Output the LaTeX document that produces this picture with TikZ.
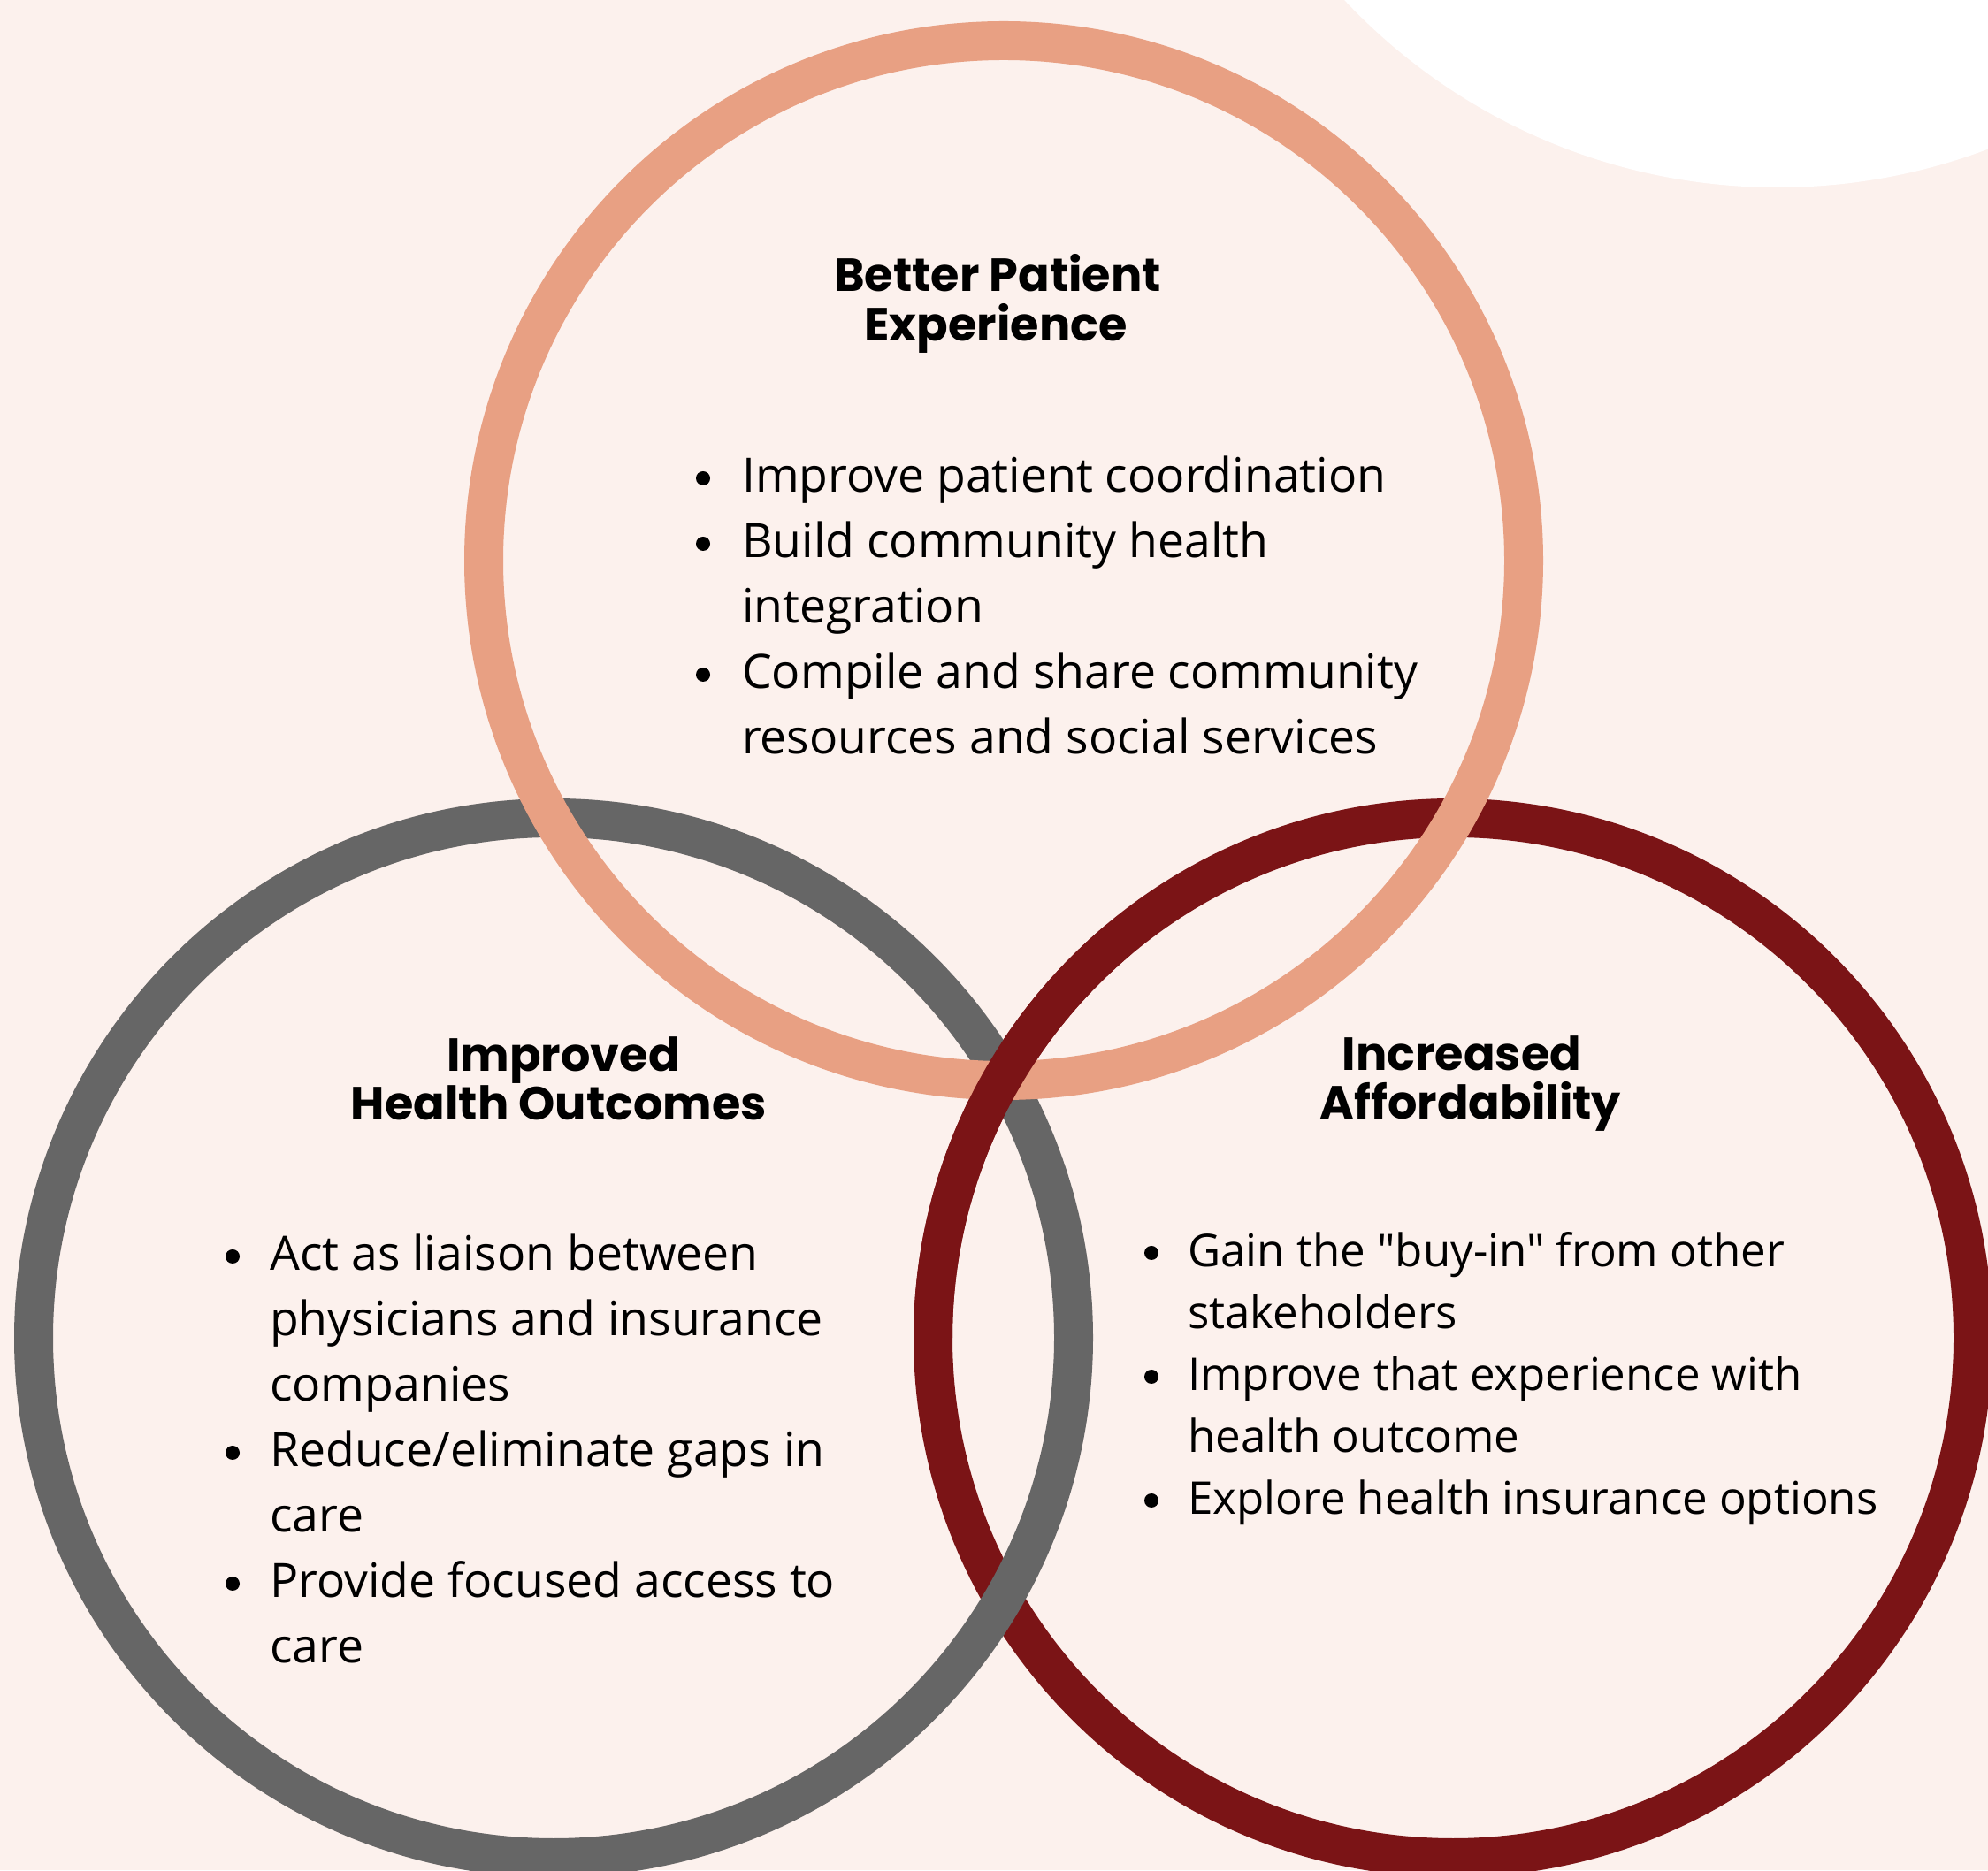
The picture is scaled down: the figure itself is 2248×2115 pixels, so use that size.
\documentclass[tikz,border=0pt]{standalone}
\usepackage{fontspec}
\setmainfont{Open Sans}
\newfontfamily\bodyfont{Open Sans}
\newfontfamily\titlefont{Poppins}
\definecolor{bg}{HTML}{FCF1ED}
\definecolor{salmon}{HTML}{E8A083}
\definecolor{greyring}{HTML}{666666}
\definecolor{darkred}{HTML}{7B1416}
\tikzset{
  ring/.style={line width=44pt},
  body/.style={font=\bodyfont\fontsize{53.5}{74}\selectfont, anchor=base west, inner sep=0pt, text=black},
  bodyr/.style={font=\bodyfont\fontsize{51}{70}\selectfont, anchor=base west, inner sep=0pt, text=black},
  ttl/.style={font=\titlefont\bfseries\fontsize{52.5}{56}\selectfont, anchor=base, inner sep=0pt, text=black},
  dot/.style={circle, fill=black, minimum size=16pt, inner sep=0pt}
}
\begin{document}
\begin{tikzpicture}[x=1pt,y=1pt]
\useasboundingbox (0,0) rectangle (2248,2115);
\fill[bg] (0,0) rectangle (2248,2115);
\begin{scope}
  \clip (0,0) rectangle (2248,2115);
  \fill[white] (2010,2575) circle[radius=672];
\end{scope}
% rings
\coordinate (cR) at (1643,602);
\coordinate (cG) at (626,602);
\coordinate (cS) at (1135,1481);
\draw[ring, darkred] (cR) circle[radius=588];
\draw[ring, greyring] (cG) circle[radius=588];
\draw[ring, salmon] (cS) circle[radius=588];
\draw[ring, darkred] (1265.03,1052.43) arc[start angle=130, end angle=180, radius=588];
% top block
\node[ttl] (t1) at (1128,1785) {Better Patient};
\node[ttl] (t2) at (1126,1729) {Experience};
\node[dot] (b1) at (795,1574) {};
\node[body] (s1) at (839,1558) {Improve patient coordination};
\node[dot] (b2) at (795,1500) {};
\node[body] (s2) at (839,1484) {Build community health};
\node[body] (s3) at (839,1410) {integration};
\node[dot] (b3) at (795,1352) {};
\node[body] (s4) at (839,1336) {Compile and share community};
\node[body] (s5) at (839,1262) {resources and social services};
% left block
\node[ttl] (l1) at (637,903) {Improved};
\node[ttl] (l2) at (632,848) {Health Outcomes};
\node[dot] (lb1) at (263,694) {};
\node[body] (ls1) at (305,678) {Act as liaison between};
\node[body] (ls2) at (305,604) {physicians and insurance};
\node[body] (ls3) at (305,530) {companies};
\node[dot] (lb2) at (263,472) {};
\node[body] (ls4) at (305,456) {Reduce/eliminate gaps in};
\node[body] (ls5) at (305,382) {care};
\node[dot] (lb3) at (263,324) {};
\node[body] (ls6) at (305,308) {Provide focused access to};
\node[body] (ls7) at (305,234) {care};
% right block
\node[ttl] (r1) at (1653,904) {Increased};
\node[ttl] (r2) at (1663,849) {Affordability};
\node[dot] (rb1) at (1302,698) {};
\node[bodyr] (rs1) at (1343,682) {Gain the "buy-in" from other};
\node[bodyr] (rs2) at (1343,612) {stakeholders};
\node[dot] (rb2) at (1302,558) {};
\node[bodyr] (rs3) at (1343,542) {Improve that experience with};
\node[bodyr] (rs4) at (1343,472) {health outcome};
\node[dot] (rb3) at (1302,418) {};
\node[bodyr] (rs5) at (1343,402) {Explore health insurance options};
\end{tikzpicture}
\end{document}
